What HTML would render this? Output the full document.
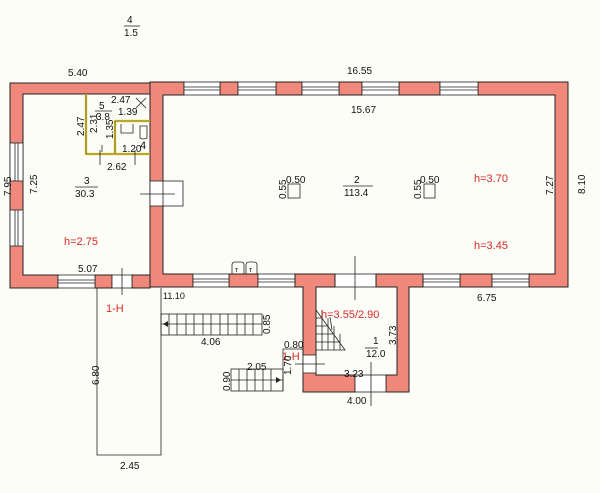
<!DOCTYPE html>
<html><head><meta charset="utf-8"><style>
html,body{margin:0;padding:0;background:#fdfdf7;}
svg{display:block;}
text{font-family:"Liberation Sans",sans-serif;font-size:10px;fill:#111;}
.r{fill:#d42a2a;font-size:11px;}
</style></head><body>
<svg width="600" height="493" viewBox="0 0 600 493" xmlns="http://www.w3.org/2000/svg">
<rect width="600" height="493" fill="#fdfdf7"/>
<defs>
<style>
.w{fill:#f0897b;stroke:#222;stroke-width:1;}
.win{fill:#fff;stroke:#222;stroke-width:0.8;}
.ln{stroke:#222;stroke-width:0.8;fill:none;}
</style>
</defs>
<!-- left room walls -->
<path class="w" d="M10,83 H150 V94 H23 V275 H58 V288 H10 Z"/>
<rect class="w" x="95" y="275" width="17" height="13"/>
<rect class="w" x="132" y="275" width="18" height="13"/>
<rect class="win" x="58" y="275" width="37" height="13"/>
<line class="ln" x1="58" y1="280" x2="95" y2="280"/><line class="ln" x1="58" y1="283" x2="95" y2="283"/>
<rect class="win" x="112" y="275" width="20" height="13"/>
<line class="ln" x1="122" y1="268" x2="122" y2="295"/>
<rect class="win" x="10" y="143" width="13" height="38"/>
<line class="ln" x1="15" y1="143" x2="15" y2="181"/><line class="ln" x1="18" y1="143" x2="18" y2="181"/>
<rect class="win" x="10" y="210" width="13" height="36"/>
<line class="ln" x1="15" y1="210" x2="15" y2="246"/><line class="ln" x1="18" y1="210" x2="18" y2="246"/>
<!-- main hall -->
<path class="w" d="M150,82 H184 V95 H163 V274 H193 V287 H150 Z"/>
<path class="w" d="M478,82 H568 V287 H529 V274 H555 V95 H478 Z"/>
<rect class="w" x="220" y="82" width="18" height="13"/>
<rect class="w" x="276" y="82" width="26" height="13"/>
<rect class="w" x="339" y="82" width="23" height="13"/>
<rect class="w" x="399" y="82" width="41" height="13"/>
<g>
<rect class="win" x="184" y="82" width="36" height="13"/><line class="ln" x1="184" y1="87" x2="220" y2="87"/><line class="ln" x1="184" y1="90" x2="220" y2="90"/>
<rect class="win" x="238" y="82" width="38" height="13"/><line class="ln" x1="238" y1="87" x2="276" y2="87"/><line class="ln" x1="238" y1="90" x2="276" y2="90"/>
<rect class="win" x="302" y="82" width="37" height="13"/><line class="ln" x1="302" y1="87" x2="339" y2="87"/><line class="ln" x1="302" y1="90" x2="339" y2="90"/>
<rect class="win" x="362" y="82" width="37" height="13"/><line class="ln" x1="362" y1="87" x2="399" y2="87"/><line class="ln" x1="362" y1="90" x2="399" y2="90"/>
<rect class="win" x="440" y="82" width="38" height="13"/><line class="ln" x1="440" y1="87" x2="478" y2="87"/><line class="ln" x1="440" y1="90" x2="478" y2="90"/>
</g>
<rect class="w" x="229" y="274" width="29" height="13"/>
<rect class="w" x="460" y="274" width="32" height="13"/>
<g>
<rect class="win" x="193" y="274" width="36" height="13"/><line class="ln" x1="193" y1="279" x2="229" y2="279"/><line class="ln" x1="193" y1="282" x2="229" y2="282"/>
<rect class="win" x="258" y="274" width="37" height="13"/><line class="ln" x1="258" y1="279" x2="295" y2="279"/><line class="ln" x1="258" y1="282" x2="295" y2="282"/>
<rect class="win" x="423" y="274" width="37" height="13"/><line class="ln" x1="423" y1="279" x2="460" y2="279"/><line class="ln" x1="423" y1="282" x2="460" y2="282"/>
<rect class="win" x="492" y="274" width="37" height="13"/><line class="ln" x1="492" y1="279" x2="529" y2="279"/><line class="ln" x1="492" y1="282" x2="529" y2="282"/>
<rect class="win" x="335" y="274" width="41" height="13"/>
</g>
<line class="ln" x1="355" y1="256" x2="355" y2="300"/>
<!-- radiators -->
<path class="ln" d="M232,274 V265 Q232,262 235,262 H241 Q244,262 244,265 V274 M246,274 V265 Q246,262 249,262 H254 Q257,262 257,265 V274"/>
<text x="235" y="272" style="font-size:7px">т</text><text x="249" y="272" style="font-size:7px">т</text>
<!-- vestibule -->
<path class="w" d="M295,274 H335 V287 H316 V375 H355 V392 H303 V287 H295 Z"/>
<path class="w" d="M376,274 H423 V287 H409 V392 H386 V375 H397 V287 H376 Z"/>
<rect class="win" x="355" y="375" width="31" height="17"/>
<line class="ln" x1="371" y1="362" x2="371" y2="406"/>
<rect class="win" x="303" y="355" width="13" height="18"/>
<line class="ln" x1="295" y1="364" x2="325" y2="364"/>
<!-- hall left door -->
<rect class="win" x="150" y="181" width="33" height="25"/>
<line class="ln" x1="163" y1="181" x2="163" y2="206"/>
<line class="ln" x1="140" y1="194" x2="175" y2="194"/>
<!-- bathroom partitions -->
<path d="M86,94 V154 H150" stroke="#e8d23a" stroke-width="2.5" fill="none"/>
<path d="M86,94 V154 H150" stroke="#222" stroke-width="0.6" fill="none"/>
<path d="M115,154 V121 H150" stroke="#e8d23a" stroke-width="2.5" fill="none"/>
<path d="M115,154 V121 H150" stroke="#222" stroke-width="0.6" fill="none"/>
<path class="ln" d="M121,124 V133 H133 V124 M140,126 H147 V138 Q143,140 140,138 Z"/>
<line class="ln" x1="100" y1="150" x2="100" y2="165"/><line class="ln" x1="135" y1="150" x2="135" y2="165"/>
<line class="ln" x1="102" y1="145" x2="102" y2="152"/>
<path class="ln" d="M136,98 L146,108 M146,98 L136,108"/>
<!-- columns -->
<rect class="ln" x="288" y="184" width="12" height="14"/>
<rect class="ln" x="424" y="184" width="11" height="14"/>
<!-- porch / stairs -->
<path class="ln" d="M97,288 V455 H161 V288"/>
<rect class="ln" x="161" y="314" width="101" height="21"/>
<line class="ln" x1="161" y1="324" x2="262" y2="324"/>
<g class="ln">
<path d="M169,314V335M177,314V335M186,314V335M194,314V335M203,314V335M211,314V335M220,314V335M228,314V335M237,314V335M245,314V335M253,314V335"/>
</g>
<path d="M163,324 l5,-3 v6 z" fill="#222"/>
<rect class="ln" x="231" y="369" width="52" height="22"/>
<line class="ln" x1="231" y1="380" x2="283" y2="380"/>
<path class="ln" d="M239,369V391M247,369V391M255,369V391M263,369V391M271,369V391"/>
<path d="M281,380 l-5,-3 v6 z" fill="#222"/>
<path class="ln" d="M283,391 V349 H303"/>
<path class="ln" d="M316,310 L345,350 H316 M316,318 H322 M316,326 H328 M316,334 H334 M316,342 H340 M322,310V350 M328,318V350 M334,326V350 M340,334V350 M332,330 L330,317"/>
<!-- labels -->
<text x="127" y="23">4</text><line class="ln" x1="124" y1="26" x2="140" y2="26"/><text x="124" y="36">1.5</text>
<text x="68" y="76">5.40</text>
<text x="347" y="74">16.55</text>
<text x="351" y="113">15.67</text>
<text x="111" y="103">2.47</text>
<text x="99" y="109">5</text><line class="ln" x1="95" y1="111" x2="112" y2="111"/><text x="96" y="120">3.8</text>
<text x="118" y="115">1.39</text>
<text transform="translate(84,136) rotate(-90)">2.47</text>
<text transform="translate(97,133) rotate(-90)">2.31</text>
<text transform="translate(113,139) rotate(-90)">1.35</text>
<text x="122" y="152">1.20</text><text x="140" y="149" style="font-size:11px">4</text>
<text x="107" y="170">2.62</text>
<text x="84" y="184">3</text><line class="ln" x1="75" y1="187" x2="98" y2="187"/><text x="75" y="197">30.3</text>
<text transform="translate(11,196) rotate(-90)">7.95</text>
<text transform="translate(37,194) rotate(-90)">7.25</text>
<text class="r" x="64" y="245">h=2.75</text>
<text x="78" y="272">5.07</text>
<text x="163" y="299" style="font-size:9px">11.10</text>
<text class="r" x="106" y="312">1-H</text>
<text x="201" y="345">4.06</text>
<text transform="translate(270,334) rotate(-90)">0.85</text>
<text x="284" y="348">0.80</text>
<text class="r" x="282" y="360">1-H</text>
<text transform="translate(291,375) rotate(-90)">1.70</text>
<text x="247" y="370">2.05</text>
<text transform="translate(230,391) rotate(-90)">0.90</text>
<text x="344" y="377">3.23</text>
<text x="347" y="404">4.00</text>
<text transform="translate(99,385) rotate(-90)">6.80</text>
<text x="120" y="469">2.45</text>
<text class="r" x="321" y="318">h=3.55/2.90</text>
<text transform="translate(396,345) rotate(-90)">3.73</text>
<text x="373" y="344">1</text><line class="ln" x1="365" y1="348" x2="378" y2="348"/><text x="366" y="357">12.0</text>
<text x="354" y="183">2</text><line class="ln" x1="343" y1="186" x2="373" y2="186"/><text x="344" y="196">113.4</text>
<text x="286" y="183">0.50</text>
<text transform="translate(286,199) rotate(-90)">0.55</text>
<text x="420" y="183">0.50</text>
<text transform="translate(421,199) rotate(-90)">0.55</text>
<text class="r" x="474" y="182">h=3.70</text>
<text class="r" x="474" y="249">h=3.45</text>
<text transform="translate(553,195) rotate(-90)">7.27</text>
<text transform="translate(585,194) rotate(-90)">8.10</text>
<text x="477" y="301">6.75</text>
</svg>
</body></html>
